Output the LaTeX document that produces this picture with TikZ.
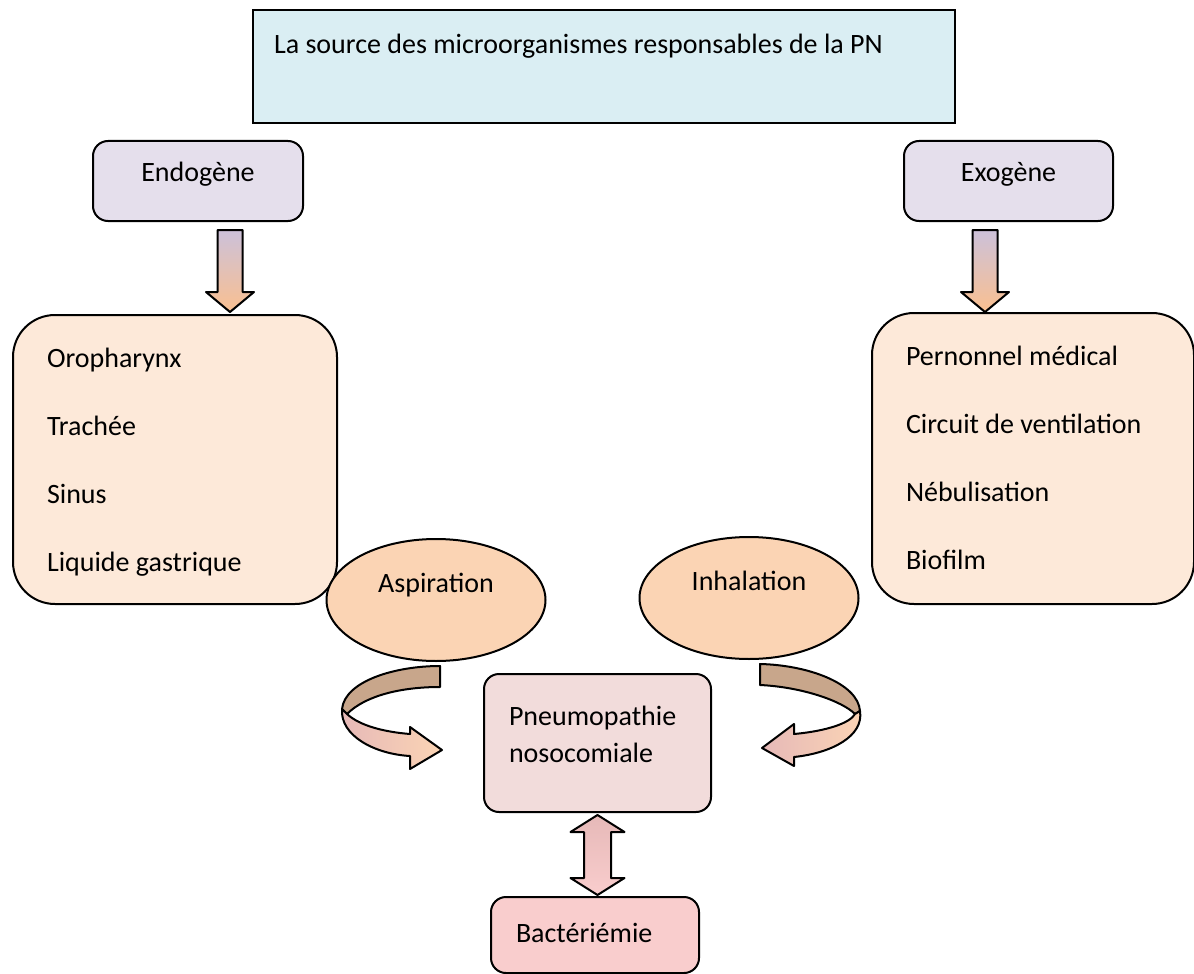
\documentclass[tikz,border=0pt]{standalone}
\usepackage{fontspec}
\setmainfont{Carlito}
\usetikzlibrary{shapes.geometric}

\definecolor{bleuclair}{HTML}{DAEEF3}
\definecolor{lavande}{HTML}{E5DFEC}
\definecolor{lavandefonce}{HTML}{CCC1DA}
\definecolor{peche}{HTML}{FDE9D9}
\definecolor{pechefonce}{HTML}{FBD4B4}
\definecolor{abricot}{HTML}{FAC090}
\definecolor{rosepale}{HTML}{F2DCDB}
\definecolor{rosebact}{HTML}{F9CDCD}
\definecolor{rosefonce}{HTML}{E6B9B8}
\definecolor{brun}{HTML}{C8A68B}

\begin{document}
\begin{tikzpicture}[x=0.5pt,y=-0.5pt,font=\fontsize{14}{17}\selectfont]

\useasboundingbox (0,0) rectangle (1194,974);

\tikzset{
  boite/.style={draw, line width=1pt, inner sep=0pt, anchor=north},
  petite/.style={boite, rounded corners=7.5pt},
  grande/.style={boite, rounded corners=21pt, anchor=north west, inner xsep=17pt,
    align=flush left, text width=#1, font=\fontsize{14}{34}\selectfont},
  bulle/.style={draw, line width=1pt, ellipse, fill=pechefonce, inner sep=0pt,
    minimum width=109.5pt, minimum height=61pt, text height=10pt, text depth=18pt},
  flechebas/.style={draw, line width=1pt, line join=round, top color=lavandefonce, bottom color=abricot},
  flechedouble/.style={draw, line width=1pt, line join=round, top color=rosefonce, bottom color=rosebact},
  rubandos/.style={draw, line width=1pt, line join=round, fill=brun},
  rubanface/.style={draw, line width=1pt, line join=round, left color=rosefonce, right color=pechefonce}
}

% 1. Titre
\node[boite, fill=bleuclair, line width=0.8pt, inner xsep=10.5pt, text width=330pt, align=flush left,
  text height=22pt, text depth=34.5pt] (source) at (604,9) {La source des microorganismes responsables de la PN};

% 2. Les deux origines
\node[petite, fill=lavande, minimum width=105pt, text height=20pt, text depth=20pt] (endo) at (198,140) {Endogène};
\node[petite, fill=lavande, minimum width=104.5pt, text height=20pt, text depth=20pt] (exo) at (1008.5,140) {Exogène};

% 3. Listes des sources
\node[grande=128pt, fill=peche, text height=26pt, text depth=118.5pt] (endoliste) at (12,314) {Oropharynx\\Trachée\\Sinus\\Liquide gastrique};
\node[grande=127pt, fill=peche, text height=26pt, text depth=119.5pt] (exoliste) at (871,312) {Pernonnel médical\\Circuit de ventilation\\Nébulisation\\Biofilm};

% 4. Fleches vers le bas
\draw[flechebas] ([xshift=16pt,yshift=-4pt]endo.south) ++(-12.5,0) -- ++(0,62) -- ++(-11.5,0) -- ++(24,20) -- ++(24,-20) -- ++(-11.5,0) -- ++(0,-62) -- cycle;
\draw[flechebas] ([xshift=-11.75pt,yshift=-4pt]exo.south) ++(-12.5,0) -- ++(0,62) -- ++(-11.5,0) -- ++(24,20) -- ++(24,-20) -- ++(-11.5,0) -- ++(0,-62) -- cycle;

% 5. Voies de contamination
\node[bulle] (aspi) at (436,600) {Aspiration};
\node[bulle] (inha) at (749,598) {Inhalation};

% 6. Pneumopathie et bacteriemie
\node[petite, fill=rosepale, anchor=north west, inner xsep=12.5pt, text width=88.5pt, align=flush left,
  font=\fontsize{14}{18.5}\selectfont, text height=25.5pt, text depth=43.5pt] (pneu) at (483,673) {Pneumopathie\\nosocomiale};
\node[petite, fill=rosebact, anchor=north west, inner xsep=12.5pt, text width=79pt, align=flush left,
  text height=22.5pt, text depth=15.5pt] (bact) at (490,896) {Bactériémie};

% 7. Fleches courbes
\begin{scope}[shift={(pneu.west)}]
\draw[rubandos] (-43,-77) .. controls (-88,-77) and (-138,-62) .. (-141,-34) -- (-136,-29) .. controls (-118,-47) and (-83,-56) .. (-43,-56) -- cycle;
\draw[rubanface] (-141,-34) .. controls (-143,-7) and (-108,11) .. (-73,13) -- (-73,26) -- (-41,7) -- (-73,-16) -- (-73,-9) .. controls (-98,-11) and (-123,-17) .. (-136,-29) -- cycle;
\end{scope}
\begin{scope}[shift={(pneu.east)}]
\draw[rubandos] (48,-79) .. controls (95,-78) and (146,-60) .. (148,-32) -- (143,-29) .. controls (130,-42) and (90,-56) .. (48,-58) -- cycle;
\draw[rubanface] (148,-32) .. controls (152,-7) and (120,10) .. (82,14) -- (82,23) -- (50,5) -- (82,-19) -- (82,-9) .. controls (115,-12) and (138,-20) .. (143,-29) -- cycle;
\end{scope}

% 8. Fleche double
\draw[flechedouble] ([yshift=-1pt]pneu.south) -- ++(27,17) -- ++(-13.5,0) -- ++(0,46) -- ++(13.5,0) -- ++(-27,17) -- ++(-27,-17) -- ++(13.5,0) -- ++(0,-46) -- ++(-13.5,0) -- cycle;

\end{tikzpicture}
\end{document}
